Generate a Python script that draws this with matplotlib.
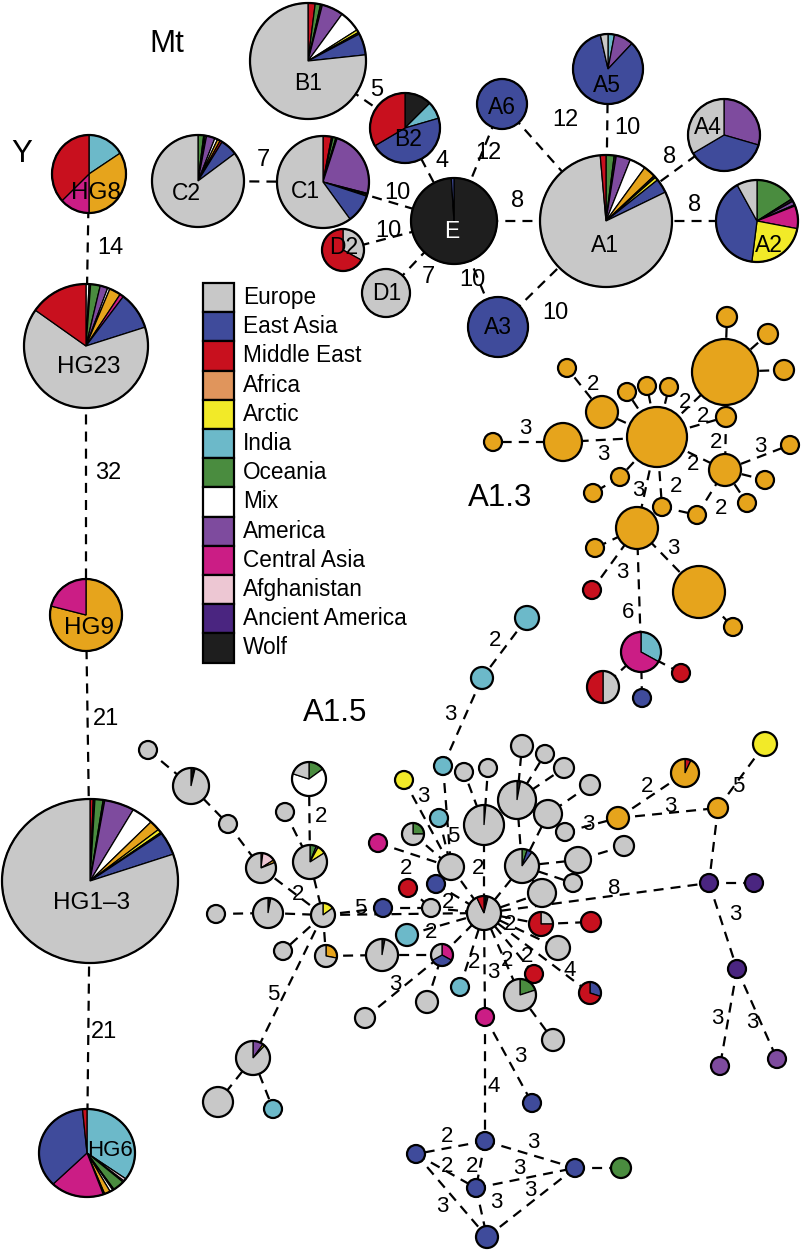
import matplotlib
matplotlib.use("Agg")
import matplotlib.pyplot as plt
from matplotlib.patches import Wedge, Circle, Rectangle
from matplotlib.transforms import Affine2D

plt.rcParams['font.family'] = ['Liberation Sans', 'DejaVu Sans']

# ── colours per region ──────────────────────────────────────────────────────
LEGEND_NAMES = ['Europe', 'East Asia', 'Middle East', 'Africa', 'Arctic', 'India',
                'Oceania', 'Mix', 'America', 'Central Asia', 'Afghanistan',
                'Ancient America', 'Wolf']
COLORS = {
    'Europe': '#C8C8C8', 'East Asia': '#3F4B9B', 'Middle East': '#C8101E',
    'Africa': '#E0955C', 'Arctic': '#F2EA28', 'India': '#6CB9C9',
    'Oceania': '#4A8C3F', 'Mix': '#FFFFFF', 'America': '#7E4B9E',
    'Central Asia': '#CB1D85', 'Afghanistan': '#EDC7D3',
    'Ancient America': '#4A2580', 'Wolf': '#1E1E1E', 'Orange': '#E6A41C',
}

# ── Mt haplogroups: id, x, y, radius, composition (clockwise from 12) ──────
MT_NODES = [
    ('B1', 308, 61, 58, [('Middle East', .02), ('Oceania', .015), ('Wolf', .005), ('America', .06),
                         ('Mix', .06), ('Arctic', .008), ('Wolf', .005), ('East Asia', .06), ('Europe', .767)]),
    ('B2', 405, 128, 35, [('Wolf', .125), ('India', .08), ('East Asia', .46), ('Middle East', .335)]),
    ('C2', 198, 181, 46, [('Oceania', .02), ('Wolf', .005), ('Mix', .005), ('America', .03), ('Mix', .01),
                          ('Orange', .01), ('Middle East', .008), ('East Asia', .06), ('Europe', .852)]),
    ('C1', 323, 182, 46, [('Middle East', .03), ('Wolf', .005), ('Oceania', .01), ('Wolf', .005),
                          ('America', .24), ('Wolf', .005), ('Arctic', .005), ('East Asia', .1), ('Europe', .6)]),
    ('D2', 343, 250, 21, [('Europe', .33), ('Middle East', .67)]),
    ('D1', 386, 293, 24, [('Europe', 1.0)]),
    ('E', 454, 221, 43, [('Wolf', .99), ('East Asia', .01)]),
    ('A6', 502, 104, 25, [('East Asia', 1.0)]),
    ('A5', 608, 69, 35, [('India', .03), ('America', .09), ('East Asia', .845), ('Europe', .035)]),
    ('A4', 724, 135, 36, [('America', .295), ('East Asia', .37), ('Europe', .335)]),
    ('A1', 606, 221, 66, [('Oceania', .02), ('Wolf', .005), ('America', .035), ('Mix', .04), ('Orange', .03),
                          ('Wolf', .005), ('Arctic', .008), ('East Asia', .035), ('Europe', .808),
                          ('Middle East', .014)]),
    ('A2', 757, 221, 41, [('Oceania', .16), ('Wolf', .01), ('America', .015), ('Mix', .005),
                          ('Central Asia', .09), ('Arctic', .24), ('East Asia', .40), ('Europe', .08)]),
    ('A3', 498, 327, 30, [('East Asia', 1.0)]),
]
MT_LABELS = {'B1': (308, 83), 'B2': (408, 140), 'C2': (186, 194), 'C1': (305, 192),
             'D2': (344, 248), 'D1': (387, 293), 'E': (452, 232), 'A6': (502, 107),
             'A5': (607, 85), 'A4': (708, 128), 'A1': (605, 245), 'A2': (769, 245),
             'A3': (498, 327)}
MT_EDGES = [
    ('C2', 'C1', '7', 263, 160), ('B1', 'B2', '5', 377, 90), ('C1', 'E', '10', 397, 193),
    ('B2', 'E', '4', 442, 161), ('A6', 'E', '12', 488, 153), ('D2', 'E', '10', 388, 231),
    ('D1', 'E', '7', 428, 277), ('E', 'A3', '10', 472, 280), ('E', 'A1', '8', 518, 201),
    ('A6', 'A1', '12', 565, 120), ('A5', 'A1', '10', 627, 128), ('A4', 'A1', '8', 670, 157),
    ('A1', 'A2', '8', 695, 205), ('A1', 'A3', '10', 555, 313),
]

# ── Y haplogroups: id, x, y, rx, ry, composition ────────────────────────────
Y_NODES = [
    ('HG8', 89, 174, 37, 39, [('India', .16), ('Orange', .34), ('Central Asia', .13), ('Middle East', .37)]),
    ('HG23', 86, 346, 62, 62, [('Mix', .008), ('Wolf', .004), ('Oceania', .025), ('America', .02),
                               ('Mix', .006), ('Orange', .03), ('Central Asia', .01), ('East Asia', .098),
                               ('Europe', .647), ('Middle East', .152)]),
    ('HG9', 86, 615, 36, 36, [('Orange', .79), ('Central Asia', .21)]),
    ('HG1\u20133', 90, 881, 88, 82, [('Middle East', .006), ('Wolf', .003), ('Oceania', .015), ('Wolf', .003),
                                    ('America', .055), ('Mix', .04), ('Orange', .02), ('Arctic', .007),
                                    ('Wolf', .003), ('East Asia', .045), ('Europe', .803)]),
    ('HG6', 87, 1153, 48, 44, [('India', .35), ('Afghanistan', .01), ('Mix', .005), ('Oceania', .04),
                               ('Wolf', .005), ('Mix', .01), ('Orange', .02), ('Wolf', .005),
                               ('Central Asia', .18), ('East Asia', .36), ('Middle East', .015)]),
]
Y_LABELS = {'HG8': (96, 193), 'HG23': (89, 367), 'HG9': (89, 628),
            'HG1\u20133': (92, 903), 'HG6': (110, 1151)}
Y_EDGES = [('HG8', 'HG23', '14', 110, 248), ('HG23', 'HG9', '32', 108, 473),
           ('HG9', 'HG1\u20133', '21', 106, 719), ('HG1\u20133', 'HG6', '21', 104, 1032)]

# ── A1.3 cluster ────────────────────────────────────────────────────────────
A13_NODES = [
    ('o1', 727, 317, 10, 'Orange'), ('o2', 768, 334, 10, 'Orange'), ('oB', 725, 372, 33, 'Orange'),
    ('o3', 784, 370, 10, 'Orange'), ('o4', 567, 368, 9, 'Orange'), ('oM1', 602, 412, 16, 'Orange'),
    ('o5', 627, 392, 9, 'Orange'), ('o6', 647, 386, 9, 'Orange'), ('o7', 669, 387, 9, 'Orange'),
    ('oC', 657, 437, 30, 'Orange'), ('o8', 726, 417, 10, 'Orange'), ('oM2', 563, 442, 19, 'Orange'),
    ('o9', 493, 442, 9, 'Orange'), ('o10', 790, 445, 9, 'Orange'), ('oM3', 725, 470, 16, 'Orange'),
    ('o11', 620, 477, 9, 'Orange'), ('o12', 593, 493, 9, 'Orange'), ('o13', 765, 480, 9, 'Orange'),
    ('o14', 747, 503, 9, 'Orange'), ('o15', 662, 507, 9, 'Orange'), ('o16', 697, 515, 9, 'Orange'),
    ('oM4', 637, 528, 21, 'Orange'), ('o17', 595, 548, 9, 'Orange'), ('r1', 592, 590, 9, 'Middle East'),
    ('oB2', 699, 592, 26, 'Orange'), ('o18', 733, 627, 9, 'Orange'),
    ('pk', 641, 652, 20, [('India', .33), ('Central Asia', .67)]),
    ('r2', 681, 673, 9, 'Middle East'), ('rg', 603, 687, 16, [('Europe', .5), ('Middle East', .5)]),
    ('b1', 642, 698, 9, 'East Asia'),
    ('c1', 527, 618, 12, 'India'), ('c2', 482, 678, 11, 'India'),
]
A13_EDGES = [
    ('oC', 'oB', '2', 685, 403), ('oC', 'o8', '2', 703, 416), ('o8', 'oM3', '2', 716, 443),
    ('oM3', 'o10', '3', 760, 446), ('oC', 'oM3', '2', 693, 464), ('oM3', 'o13', None, 0, 0),
    ('oM3', 'o14', None, 0, 0), ('oC', 'o5', None, 0, 0), ('oC', 'o6', None, 0, 0),
    ('oC', 'o7', None, 0, 0), ('oC', 'oM1', None, 0, 0), ('oM1', 'o4', '2', 593, 384),
    ('oC', 'oM2', '3', 603, 454), ('oM2', 'o9', '3', 525, 428), ('oC', 'o15', '2', 676, 487),
    ('o15', 'o16', None, 0, 0), ('o16', 'oM3', '2', 721, 508), ('oC', 'oM4', '3', 638, 490),
    ('oC', 'o11', None, 0, 0), ('o11', 'o12', None, 0, 0), ('oM4', 'o17', None, 0, 0),
    ('oM4', 'r1', '3', 622, 573), ('oM4', 'pk', '6', 628, 613), ('oM4', 'oB2', '3', 673, 548),
    ('oB2', 'o18', None, 0, 0), ('pk', 'r2', None, 0, 0), ('pk', 'rg', None, 0, 0),
    ('pk', 'b1', None, 0, 0), ('oB', 'o1', None, 0, 0), ('oB', 'o2', None, 0, 0),
    ('oB', 'o3', None, 0, 0), ('c1', 'c2', '2', 495, 640),
]

# ── A1.5 cluster ────────────────────────────────────────────────────────────
A15_NODES = [
    ('g1', 148, 750, 9, 'Europe'),
    ('g2', 191, 786, 18, [('Wolf', .025), ('Orange', .012), ('Europe', .963)]),
    ('g3', 228, 824, 9, 'Europe'),
    ('g4', 261, 868, 15, [('Middle East', .02), ('Afghanistan', .14), ('Orange', .03), ('Europe', .81)]),
    ('g5', 285, 812, 9, 'Europe'),
    ('g6', 309, 779, 17, [('Oceania', .15), ('Mix', .65), ('Europe', .20)]),
    ('g7', 310, 862, 17, [('Oceania', .06), ('America', .02), ('Arctic', .08), ('Europe', .84)]),
    ('g8', 323, 915, 12, [('Arctic', .15), ('Europe', .85)]),
    ('g9', 268, 913, 15, [('Wolf', .03), ('Europe', .97)]),
    ('g10', 216, 914, 9, 'Europe'),
    ('y1', 404, 780, 9, 'Arctic'), ('p1', 378, 843, 9, 'Central Asia'),
    ('gg', 413, 834, 11, [('Oceania', .25), ('Europe', .75)]),
    ('r3', 408, 888, 9, 'Middle East'), ('b2', 436, 884, 9, 'East Asia'),
    ('b3', 383, 908, 9, 'East Asia'), ('cy1', 443, 766, 9, 'India'), ('cy2', 439, 818, 9, 'India'),
    ('g11', 464, 772, 9, 'Europe'), ('g12', 488, 768, 9, 'Europe'), ('g13', 522, 746, 11, 'Europe'),
    ('g14', 545, 754, 9, 'Europe'), ('g15', 564, 768, 10, 'Europe'), ('g16', 590, 785, 10, 'Europe'),
    ('G1', 484, 825, 20, [('Wolf', .015), ('Europe', .985)]),
    ('G2', 517, 800, 19, [('Wolf', .03), ('Europe', .97)]),
    ('g17', 548, 814, 14, 'Europe'), ('g18', 565, 832, 9, 'Europe'), ('or1', 618, 818, 11, 'Orange'),
    ('g19', 624, 846, 10, 'Europe'), ('g20', 451, 867, 13, 'Europe'),
    ('G3', 522, 866, 17, [('Oceania', .05), ('East Asia', .05), ('Europe', .90)]),
    ('g21', 578, 860, 13, 'Europe'), ('g22', 573, 883, 9, 'Europe'), ('g23', 542, 893, 14, 'Europe'),
    ('g24', 431, 908, 9, 'Europe'),
    ('C5', 484, 913, 17, [('East Asia', .02), ('Wolf', .02), ('Europe', .89), ('Middle East', .07)]),
    ('rg2', 541, 924, 12, [('Europe', .25), ('Middle East', .75)]),
    ('r4', 591, 922, 10, 'Middle East'), ('cy3', 407, 935, 11, 'India'),
    ('G4', 382, 955, 16, [('Wolf', .03), ('Europe', .97)]),
    ('m3', 442, 955, 11, [('Central Asia', .33), ('East Asia', .34), ('Europe', .33)]),
    ('g25', 558, 948, 12, 'Europe'), ('r5', 534, 974, 9, 'Middle East'),
    ('gG', 520, 995, 16, [('Oceania', .2), ('Europe', .8)]),
    ('rb', 590, 993, 11, [('East Asia', .3), ('Middle East', .7)]),
    ('cy4', 460, 987, 9, 'India'), ('g26', 427, 1002, 11, 'Europe'), ('g27', 553, 1040, 11, 'Europe'),
    ('pk2', 485, 1017, 9, 'Central Asia'), ('b4', 532, 1103, 9, 'East Asia'),
    ('b5', 485, 1141, 9, 'East Asia'), ('b6', 416, 1154, 9, 'East Asia'),
    ('b7', 575, 1168, 9, 'East Asia'), ('gr', 621, 1168, 10, 'Oceania'),
    ('b8', 476, 1188, 9, 'East Asia'), ('b9', 487, 1237, 11, 'East Asia'),
    ('g28', 283, 951, 9, 'Europe'), ('go', 326, 956, 11, [('Orange', .28), ('Europe', .72)]),
    ('g29', 365, 1018, 10, 'Europe'),
    ('gp', 253, 1058, 17, [('America', .1), ('Arctic', .02), ('Europe', .88)]),
    ('g30', 218, 1102, 15, 'Europe'), ('cy5', 273, 1109, 9, 'India'),
    ('y2', 765, 744, 12, 'Arctic'), ('oR', 685, 773, 14, [('Middle East', .07), ('Orange', .93)]),
    ('o19', 718, 808, 10, 'Orange'),
    ('aa1', 709, 883, 9, 'Ancient America'), ('aa2', 754, 883, 9, 'Ancient America'),
    ('aa3', 737, 969, 9, 'Ancient America'),
    ('am1', 720, 1066, 9, 'America'), ('am2', 777, 1059, 9, 'America'),
]
A15_EDGES = [
    ('g1', 'g2', None, 0, 0), ('g2', 'g3', None, 0, 0), ('g3', 'g4', None, 0, 0),
    ('g4', 'g8', '2', 298, 895), ('g6', 'g7', '2', 321, 817), ('g5', 'g7', None, 0, 0),
    ('g7', 'g8', None, 0, 0), ('g10', 'g9', None, 0, 0), ('g9', 'g8', None, 0, 0),
    ('g8', 'b3', '5', 360, 909), ('b3', 'g24', None, 0, 0), ('g24', 'C5', '2', 448, 902),
    ('g8', 'C5', None, 0, 0), ('g8', 'gp', '5', 273, 995), ('gp', 'g30', None, 0, 0),
    ('gp', 'cy5', None, 0, 0), ('g8', 'g28', None, 0, 0), ('g8', 'go', None, 0, 0),
    ('go', 'G4', None, 0, 0), ('G4', 'm3', None, 0, 0), ('m3', 'C5', None, 0, 0),
    ('g29', 'm3', '3', 395, 985), ('g26', 'm3', None, 0, 0), ('cy3', 'C5', '2', 431, 932),
    ('p1', 'g20', '2', 406, 868), ('r3', 'g24', None, 0, 0), ('b2', 'C5', None, 0, 0),
    ('y1', 'g20', '3', 423, 797), ('cy1', 'g20', '5', 453, 837), ('cy2', 'g20', None, 0, 0),
    ('gg', 'g20', None, 0, 0), ('g20', 'C5', None, 0, 0), ('G1', 'C5', '2', 478, 868),
    ('G1', 'g11', None, 0, 0), ('G1', 'g12', None, 0, 0), ('G2', 'g13', None, 0, 0),
    ('G2', 'g14', None, 0, 0), ('G2', 'g15', None, 0, 0), ('G2', 'G3', None, 0, 0),
    ('G2', 'g17', None, 0, 0), ('g16', 'g17', None, 0, 0), ('g18', 'or1', '3', 588, 825),
    ('g17', 'g18', None, 0, 0),
    ('or1', 'oR', '2', 647, 787), ('or1', 'o19', '3', 670, 806), ('o19', 'y2', '5', 738, 787),
    ('o19', 'aa1', None, 0, 0), ('aa1', 'aa2', None, 0, 0), ('aa1', 'aa3', '3', 735, 915),
    ('aa3', 'am1', '3', 717, 1018), ('aa3', 'am2', '3', 752, 1023), ('C5', 'aa1', '8', 614, 889),
    ('g19', 'g21', None, 0, 0), ('G3', 'g21', None, 0, 0), ('G3', 'g22', None, 0, 0),
    ('G3', 'g23', None, 0, 0), ('G3', 'C5', None, 0, 0), ('G3', 'g17', None, 0, 0),
    ('g23', 'C5', None, 0, 0), ('C5', 'rg2', '2', 510, 925), ('rg2', 'r4', None, 0, 0),
    ('C5', 'g25', None, 0, 0), ('C5', 'r5', '2', 527, 957), ('C5', 'gG', '2', 507, 960),
    ('C5', 'rb', '4', 570, 970), ('C5', 'pk2', '3', 493, 973), ('C5', 'cy4', '2', 474, 962),
    ('gG', 'g27', None, 0, 0), ('pk2', 'b4', '3', 520, 1057), ('pk2', 'b5', '4', 494, 1087),
    ('b5', 'b6', '2', 447, 1137), ('b5', 'b7', '3', 533, 1142), ('b5', 'b8', '2', 472, 1167),
    ('b6', 'b8', '2', 447, 1167), ('b8', 'b7', '3', 519, 1169), ('b6', 'b9', '3', 442, 1207),
    ('b8', 'b9', '3', 496, 1203), ('b7', 'b9', '3', 530, 1191), ('b7', 'gr', None, 0, 0),
    ('cy1', 'c2', '3', 450, 715),
]

TITLES = [('Mt', 167, 44), ('Y', 22, 154), ('A1.3', 500, 498), ('A1.5', 335, 713)]

DASH = (0, (4.5, 3.2))


def draw_pie(ax, x, y, rx, ry, comp):
    # unit circle scaled into pixel coords; y axis is inverted so angles run clockwise
    tr = Affine2D().scale(rx, ry).translate(x, y) + ax.transData
    if isinstance(comp, str):
        ax.add_patch(Circle((0, 0), 1, facecolor=COLORS[comp], edgecolor='none',
                            transform=tr, zorder=2))
    else:
        cum = 0.0
        for cat, frac in comp:
            t1 = 270 + 360 * cum
            t2 = 270 + 360 * (cum + frac)
            ax.add_patch(Wedge((0, 0), 1, t1, t2, facecolor=COLORS[cat],
                               edgecolor='black', lw=0.9, transform=tr, zorder=2))
            cum += frac
    ax.add_patch(Circle((0, 0), 1, fill=False, edgecolor='black', lw=1.6,
                        transform=tr, zorder=3))


def draw_edges(ax, pos, edges, fs):
    for a, b, lab, lx, ly in edges:
        (xa, ya), (xb, yb) = pos[a], pos[b]
        ax.plot([xa, xb], [ya, yb], color='black', lw=1.6, linestyle=DASH,
                dash_capstyle='butt', zorder=1)
        if lab:
            ax.text(lx, ly, lab, fontsize=fs, ha='center', va='center', zorder=5)


def main():
    fig = plt.figure(figsize=(8.02, 12.5), dpi=100)
    ax = fig.add_axes([0, 0, 1, 1])
    ax.set_xlim(0, 802)
    ax.set_ylim(1250, 0)
    ax.axis('off')

    pos = {}
    for nid, x, y, r, comp in MT_NODES:
        pos[nid] = (x, y)
    for nid, x, y, rx, ry, comp in Y_NODES:
        pos[nid] = (x, y)
    for nid, x, y, r, comp in A13_NODES + A15_NODES:
        pos[nid] = (x, y)

    draw_edges(ax, pos, MT_EDGES + Y_EDGES, 17)
    draw_edges(ax, pos, A13_EDGES + A15_EDGES, 16)

    for nid, x, y, r, comp in MT_NODES:
        draw_pie(ax, x, y, r, r, comp)
        lx, ly = MT_LABELS[nid]
        ax.text(lx, ly, nid, fontsize=16.5, ha='center', va='center',
                color='white' if nid == 'E' else 'black', zorder=6)
    for nid, x, y, rx, ry, comp in Y_NODES:
        draw_pie(ax, x, y, rx, ry, comp)
        lx, ly = Y_LABELS[nid]
        ax.text(lx, ly, nid, fontsize=17.5 if nid != 'HG6' else 16,
                ha='center', va='center', zorder=6)
    for nid, x, y, r, comp in A13_NODES + A15_NODES:
        draw_pie(ax, x, y, r, r, comp)

    for txt, x, y in TITLES:
        ax.text(x, y, txt, fontsize=22.5, ha='center', va='center', zorder=6)

    # legend column
    box_x, box_w, top, step = 203, 31, 283, 29.2
    for i, name in enumerate(LEGEND_NAMES):
        y0 = top + i * step
        ax.add_patch(Rectangle((box_x, y0), box_w, step, facecolor=COLORS[name],
                               edgecolor='black', lw=1.6, zorder=3))
        ax.text(box_x + box_w + 9, y0 + step / 2, name, fontsize=16.3,
                ha='left', va='center', zorder=6)

    fig.savefig('out.png', dpi=100)


if __name__ == "__main__":
    main()
